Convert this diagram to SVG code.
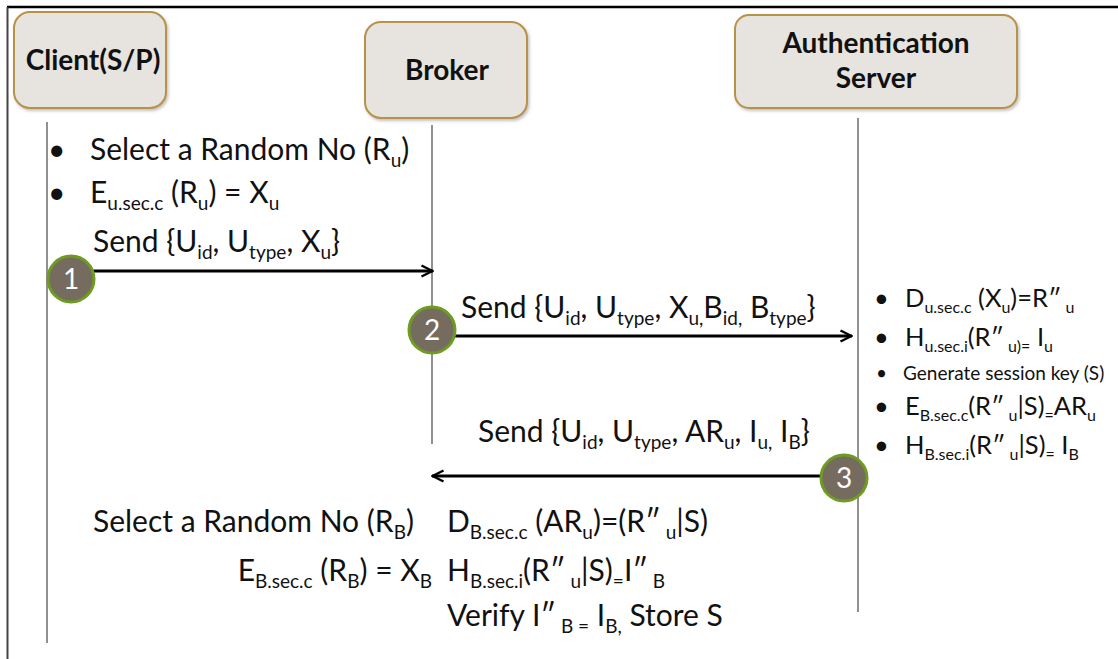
<svg xmlns="http://www.w3.org/2000/svg" width="1118" height="659" viewBox="0 0 1118 659">
  <style>
    .box { fill: #e7e4df; stroke: #b8924a; stroke-width: 2; }
    .title { font-family: Lato, "Liberation Sans", sans-serif; font-weight: bold; font-size: 28px; fill: #111; text-anchor: middle; }
    .life { stroke: #555; stroke-width: 1.3; }
    .t { font-family: Lato, "Liberation Sans", sans-serif; font-size: 30px; fill: #111; }
    .r { font-family: Lato, "Liberation Sans", sans-serif; font-size: 25.5px; fill: #111; }
    .s { font-family: Lato, "Liberation Sans", sans-serif; font-size: 19px; fill: #111; }
    .msg { stroke: #000; stroke-width: 3; fill: none; }
    .step { fill: #756b5e; stroke: #6e9c22; stroke-width: 3; }
    .num { font-family: Lato, "Liberation Sans", sans-serif; font-size: 28px; fill: #fff; text-anchor: middle; }
  </style>
  <defs>
    <marker id="head" viewBox="0 0 14 14" refX="13" refY="7" markerWidth="14" markerHeight="14" markerUnits="userSpaceOnUse" orient="auto">
      <path d="M1.5,1.5 L12.5,7 L1.5,12.5" fill="none" stroke="#000" stroke-width="2.4"/>
    </marker>
    <filter id="shadow" x="-10%" y="-10%" width="130%" height="130%">
      <feDropShadow dx="1.5" dy="2" stdDeviation="1.5" flood-color="#999" flood-opacity="0.6"/>
    </filter>
  </defs>

  <rect width="1118" height="659" fill="#fff"/>

  <!-- outer frame -->
  <line x1="7" y1="7" x2="1118" y2="7" stroke="#000" stroke-width="2.5"/>
  <line x1="7.5" y1="7" x2="7.5" y2="659" stroke="#444" stroke-width="2"/>

  <!-- participants -->
  <g id="client">
    <rect class="box" x="14" y="12" width="152" height="96" rx="16" filter="url(#shadow)"/>
    <text class="title" x="93" y="70">Client(S/P)</text>
  </g>
  <g id="broker">
    <rect class="box" x="365" y="22" width="162" height="96" rx="16" filter="url(#shadow)"/>
    <text class="title" x="447" y="80">Broker</text>
  </g>
  <g id="auth-server">
    <rect class="box" x="735" y="15" width="282" height="93" rx="14" filter="url(#shadow)"/>
    <text class="title" x="876" y="53">Authentication</text>
    <text class="title" x="876" y="88">Server</text>
  </g>

  <!-- lifelines -->
  <g id="lifelines">
    <line class="life" x1="47" y1="122" x2="47" y2="643"/>
    <line class="life" x1="432" y1="125" x2="432" y2="444"/>
    <line class="life" x1="858" y1="118" x2="858" y2="612"/>
  </g>

  <!-- message connectors -->
  <g id="connectors">
    <line class="msg" x1="90" y1="271" x2="433" y2="271" marker-end="url(#head)"/>
    <line class="msg" x1="452" y1="336" x2="852" y2="336" marker-end="url(#head)"/>
    <line class="msg" x1="825" y1="476" x2="432" y2="476" marker-end="url(#head)"/>
  </g>

  <!-- step badges -->
  <g id="step1">
    <circle class="step" cx="71" cy="279" r="23"/>
    <text class="num" x="71" y="289">1</text>
  </g>
  <g id="step2">
    <circle class="step" cx="432" cy="330" r="23"/>
    <text class="num" x="432" y="340">2</text>
  </g>
  <g id="step3">
    <circle class="step" cx="844" cy="478" r="23"/>
    <text class="num" x="844" y="488">3</text>
  </g>

  <!-- client side steps -->
  <g id="client-notes">
    <text class="t" x="48" y="160">•</text>
    <text class="t" x="90" y="160">Select a Random No (R<tspan dy="7" font-size="19">u</tspan><tspan dy="-7">)</tspan></text>
    <text class="t" x="48" y="203">•</text>
    <text class="t" x="90" y="203">E<tspan dy="7" font-size="19">u.sec.c</tspan><tspan dy="-7"> (R</tspan><tspan dy="7" font-size="19">u</tspan><tspan dy="-7">) = X</tspan><tspan dy="7" font-size="19">u</tspan></text>
    <text class="t" x="93" y="252">Send {U<tspan dy="7" font-size="19">id</tspan><tspan dy="-7">, U</tspan><tspan dy="7" font-size="19">type</tspan><tspan dy="-7">, X</tspan><tspan dy="7" font-size="19">u</tspan><tspan dy="-7">}</tspan></text>
  </g>

  <!-- message labels -->
  <g id="labels">
    <text class="t" x="461" y="318">Send {U<tspan dy="7" font-size="19">id</tspan><tspan dy="-7">, U</tspan><tspan dy="7" font-size="19">type</tspan><tspan dy="-7">, X</tspan><tspan dy="7" font-size="19">u,</tspan><tspan dy="-7">B</tspan><tspan dy="7" font-size="19">id,</tspan><tspan dy="-7"> B</tspan><tspan dy="7" font-size="19">type</tspan><tspan dy="-7">}</tspan></text>
    <text class="t" x="478" y="442">Send {U<tspan dy="7" font-size="19">id</tspan><tspan dy="-7">, U</tspan><tspan dy="7" font-size="19">type</tspan><tspan dy="-7">, AR</tspan><tspan dy="7" font-size="19">u</tspan><tspan dy="-7">, I</tspan><tspan dy="7" font-size="19">u,</tspan><tspan dy="-7"> I</tspan><tspan dy="7" font-size="19">B</tspan><tspan dy="-7">}</tspan></text>
  </g>

  <!-- server side steps -->
  <g id="server-notes">
    <text class="r" x="874" y="307">•</text>
    <text class="r" x="905" y="307">D<tspan dy="6" font-size="16">u.sec.c</tspan><tspan dy="-6"> (X</tspan><tspan dy="6" font-size="16">u</tspan><tspan dy="-6">)=R″</tspan><tspan dy="6" font-size="16"> u</tspan></text>
    <text class="r" x="874" y="346">•</text>
    <text class="r" x="905" y="346">H<tspan dy="6" font-size="16">u.sec.i</tspan><tspan dy="-6">(R″</tspan><tspan dy="6" font-size="16"> u)=</tspan><tspan dy="-6"> I</tspan><tspan dy="6" font-size="16">u</tspan></text>
    <text class="s" x="876" y="380">•</text>
    <text class="s" x="903" y="380">Generate session key (S)</text>
    <text class="r" x="874" y="415">•</text>
    <text class="r" x="905" y="415">E<tspan dy="6" font-size="16">B.sec.c</tspan><tspan dy="-6">(R″</tspan><tspan dy="6" font-size="16"> u</tspan><tspan dy="-6">|S)</tspan><tspan dy="6" font-size="16">=</tspan><tspan dy="-6">AR</tspan><tspan dy="6" font-size="16">u</tspan></text>
    <text class="r" x="874" y="454">•</text>
    <text class="r" x="905" y="454">H<tspan dy="6" font-size="16">B.sec.i</tspan><tspan dy="-6">(R″</tspan><tspan dy="6" font-size="16"> u</tspan><tspan dy="-6">|S)</tspan><tspan dy="6" font-size="16">=</tspan><tspan dy="-6"> I</tspan><tspan dy="6" font-size="16">B</tspan></text>
  </g>

  <!-- broker / client closing steps -->
  <g id="closing-notes">
    <text class="t" x="93" y="532">Select a Random No (R<tspan dy="7" font-size="19">B</tspan><tspan dy="-7">)</tspan></text>
    <text class="t" x="432" y="581" text-anchor="end">E<tspan dy="7" font-size="19">B.sec.c</tspan><tspan dy="-7"> (R</tspan><tspan dy="7" font-size="19">B</tspan><tspan dy="-7">) = X</tspan><tspan dy="7" font-size="19">B</tspan></text>
    <text class="t" x="447" y="532">D<tspan dy="7" font-size="19">B.sec.c</tspan><tspan dy="-7"> (AR</tspan><tspan dy="7" font-size="19">u</tspan><tspan dy="-7">)=(R″</tspan><tspan dy="7" font-size="19"> u</tspan><tspan dy="-7">|S)</tspan></text>
    <text class="t" x="447" y="581">H<tspan dy="7" font-size="19">B.sec.i</tspan><tspan dy="-7">(R″</tspan><tspan dy="7" font-size="19"> u</tspan><tspan dy="-7">|S)</tspan><tspan dy="7" font-size="19">=</tspan><tspan dy="-7">I″</tspan><tspan dy="7" font-size="19"> B</tspan></text>
    <text class="t" x="447" y="626">Verify I″<tspan dy="7" font-size="19"> B =</tspan><tspan dy="-7"> I</tspan><tspan dy="7" font-size="19">B,</tspan><tspan dy="-7"> Store S</tspan></text>
  </g>
</svg>
